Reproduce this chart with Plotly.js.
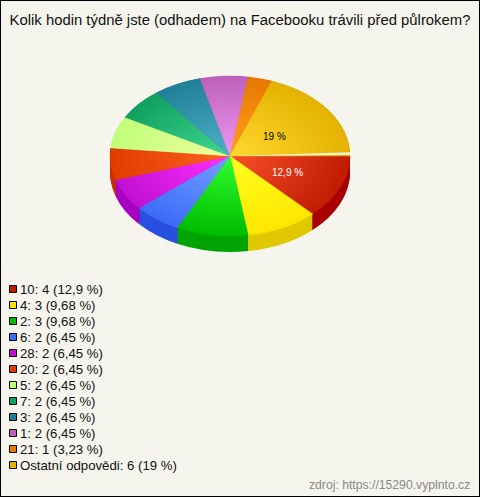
<!DOCTYPE html>
<html><head><meta charset="utf-8">
<script src="https://cdn.plot.ly/plotly-3.0.1.min.js"></script>
<style>html,body{margin:0;padding:0;background:#f5f5ee}#c{width:480px;height:497px}</style>
</head><body><div id="c"></div>
<script>
const labels = ["10: 4 (12,9 %)","4: 3 (9,68 %)","2: 3 (9,68 %)","6: 2 (6,45 %)","28: 2 (6,45 %)","20: 2 (6,45 %)","5: 2 (6,45 %)","7: 2 (6,45 %)","3: 2 (6,45 %)","1: 2 (6,45 %)","21: 1 (3,23 %)","Ostatní odpovědi: 6 (19 %)"];
const values = [4,3,3,2,2,2,2,2,2,2,1,6];
const edgeColors = ["#c01c00","#ffe600","#00bc00","#3c6cf8","#c010d4","#e03c00","#c0ff78","#10a060","#208098","#bc60bc","#e87800","#e4b200"];
const midColors  = ["#f8502c","#ffff20","#30ff30","#74a0ff","#ff30ff","#ff6020","#f0ffa0","#40d890","#50b0c8","#f098f0","#ffa020","#ffd830"];
const sideColors = ["#a80000","#e0c800","#00a400","#2850e0","#a800c0","#c83000","#a0d860","#0c8048","#186878","#984898","#c06000","#c09000"];
const pctLabels = [{t:"12,9 %",x:287,y:173,c:"#ffffff"},{t:"19 %",x:274,y:136,c:"#000000"}];

const W=480,H=497,CX=230,CY=156,R=120,SQ=2/3,DEPTH=16;
const domain={x:[(CX-R)/W,(CX+R)/W],y:[1-(CY+R)/H,1-(CY-R)/H]};
const base={type:'pie',values,labels,sort:false,direction:'clockwise',rotation:90,textinfo:'none',hoverinfo:'label',domain};
const sideLayers=[];
for(let d=DEPTH;d>=0;d--)sideLayers.push(d);
const traces=sideLayers.map(()=>Object.assign({},base,{marker:{colors:sideColors,line:{width:0}},showlegend:false}));
traces.push(Object.assign({},base,{marker:{colors:edgeColors,line:{width:0.5,color:'#000000'}},showlegend:true}));
const px=x=>x/W, py=y=>1-y/H;
const layout={width:W,height:H,margin:{l:0,r:0,t:0,b:0},paper_bgcolor:'#f5f5ee',plot_bgcolor:'#f5f5ee',
 font:{family:'"Liberation Sans",Arial,sans-serif',color:'#111111',size:12},
 title:{text:"Kolik hodin týdně jste (odhadem) na Facebooku trávili před půlrokem?",font:{size:14.87,color:'#111111'},x:0.5,xanchor:'center',y:1-20/H,yanchor:'middle'},
 legend:{x:0,xanchor:'left',y:1-200/H,yanchor:'top',bgcolor:'rgba(0,0,0,0)',borderwidth:0,font:{size:13.2,color:'#111111'},itemclick:false,itemdoubleclick:false,traceorder:'normal'},
 shapes:[
  {type:'path',xref:'paper',yref:'paper',path:`M${px(231)},${py(156)} L${px(351)},${py(152.3)} L${px(351)},${py(154.8)} Z`,fillcolor:'#fbf3e4',line:{width:0}},
  {type:'rect',xref:'paper',yref:'paper',x0:0,x1:1,y0:0,y1:1,line:{color:'#000000',width:2},fillcolor:'rgba(0,0,0,0)'}],
 annotations:pctLabels.map(p=>({xref:'paper',yref:'paper',x:px(p.x),y:py(p.y),text:p.t,showarrow:false,xanchor:'center',yanchor:'middle',font:{size:10,color:p.c}})).concat([
  {xref:'paper',yref:'paper',x:px(472),y:py(485),xanchor:'right',yanchor:'middle',showarrow:false,text:'zdroj: https://15290.vyplnto.cz',font:{size:12.2,color:'#888888'}}])
};
Plotly.newPlot('c',traces,layout,{displayModeBar:false}).then(gd=>{
 const NS='http://www.w3.org/2000/svg';
 const svg=gd.querySelector('svg.main-svg');
 const defs=svg.querySelector('defs');
 const groups=gd.querySelectorAll('.pielayer .trace');
 groups.forEach((g,i)=>{
  const d=i<sideLayers.length?sideLayers[i]:0;
  g.setAttribute('transform',`translate(0,${CY+d}) scale(1,${SQ}) translate(0,${-CY})`);
 });
 const top=groups[groups.length-1];
 top.querySelectorAll('.slice path.surface').forEach((p,i)=>{
  const id='grad'+i;
  const rg=document.createElementNS(NS,'radialGradient');
  rg.setAttribute('id',id);rg.setAttribute('gradientUnits','userSpaceOnUse');
  rg.setAttribute('cx',CX);rg.setAttribute('cy',CY);rg.setAttribute('r',R);
  [[0,midColors[i]],[1,edgeColors[i]]].forEach(([o,c])=>{const s=document.createElementNS(NS,'stop');s.setAttribute('offset',o);s.setAttribute('stop-color',c);rg.appendChild(s);});
  defs.appendChild(rg);
  p.style.fill=`url(#${id})`;
  p.style.stroke=`url(#${id})`;
  p.style.strokeWidth='0.5px';
 });
 const lg=gd.querySelector('.legend');
 lg.setAttribute('transform','translate(0,0)');
 const sb=lg.querySelector('.scrollbox');
 if(sb){sb.removeAttribute('clip-path');sb.setAttribute('transform','translate(0,0)');}
 lg.querySelectorAll('.traces').forEach((t,i)=>{
  t.setAttribute('transform',`translate(0,${289+i*16})`);
  const tx=t.querySelector('.legendtext');
  if(tx){tx.setAttribute('x','20');}
  const sw=t.querySelector('.legendpie');
  if(sw){sw.setAttribute('d','M3.5,3.5H-3.5V-3.5H3.5Z');sw.setAttribute('transform','translate(13,0)');sw.style.stroke='#000';sw.style.strokeWidth='1px';sw.style.strokeLinejoin='miter';}
 });
});
</script></body></html>
